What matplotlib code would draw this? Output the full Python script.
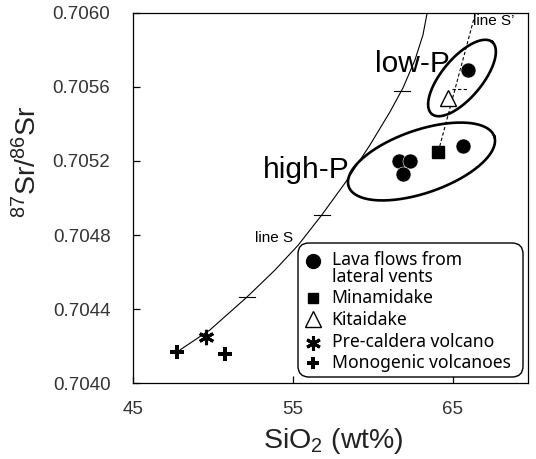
import numpy as np
import matplotlib
matplotlib.use("Agg")
import matplotlib.pyplot as plt
from matplotlib.patches import FancyBboxPatch
from matplotlib.transforms import IdentityTransform

plt.rcParams['font.family'] = ['Liberation Sans', 'DejaVu Sans']
plt.rcParams['mathtext.fontset'] = 'custom'
plt.rcParams['mathtext.rm'] = 'Liberation Sans'
plt.rcParams['mathtext.it'] = 'Liberation Sans:italic'

# ---------------- data ----------------
lava_x = [65.94, 65.63, 61.63, 62.30, 61.88]
lava_y = [0.70569, 0.70528, 0.70520, 0.70520, 0.70513]
mina_x = [64.10]
mina_y = [0.70525]
kita_x = [64.69]
kita_y = [0.70554]
pre_x = [49.54]
pre_y = [0.70425]
mono_x = [47.73, 50.73]
mono_y = [0.70417, 0.70416]

lineS_x = [47.92, 49.80, 52.10, 53.87, 55.33, 56.80, 58.26, 59.82, 61.07, 61.89, 62.64, 63.14, 63.39]
lineS_y = [0.70418, 0.704288, 0.704464, 0.704611, 0.704746, 0.704908, 0.705081,
           0.705286, 0.705464, 0.705594, 0.705745, 0.705880, 0.705993]
lineS_tick_x = [52.10, 56.80, 61.85]
lineS_tick_y = [0.704464, 0.704908, 0.70558]

lineS2_x = [64.10, 66.40]
lineS2_y = [0.70525, 0.70599]
lineS2_tick_x = [65.42]
lineS2_tick_y = [0.70559]

xticks = [45, 55, 65]
yticks = [0.7040, 0.7044, 0.7048, 0.7052, 0.7056, 0.7060]

legend_labels = ["Lava flows from\nlateral vents", "Minamidake", "Kitaidake",
                 "Pre-caldera volcano", "Monogenic volcanoes"]

# ---------------- figure ----------------
W, H = 536, 459
fig = plt.figure(figsize=(W / 100, H / 100), dpi=100)
AX_L, AX_R, AX_T, AX_B = 133.3, 527.7, 12.7, 383.3
ax = fig.add_axes([AX_L / W, 1 - AX_B / H, (AX_R - AX_L) / W, (AX_B - AX_T) / H])
ax.set_xlim(45, 69.7)
ax.set_ylim(0.7040, 0.7060)


def pxa(x, y):
    """pixel (from top-left) -> axes fraction"""
    return ((x - AX_L) / (AX_R - AX_L), (AX_B - y) / (AX_B - AX_T))


# line S
ax.plot(lineS_x, lineS_y, color='black', lw=0.8, solid_capstyle='butt')
for tx, ty in zip(lineS_tick_x, lineS_tick_y):
    ax.plot([tx - 0.5, tx + 0.5], [ty, ty], color='black', lw=0.8)

# line S'
ax.plot(lineS2_x, lineS2_y, color='black', lw=0.8, ls=(0, (3, 2)))
for tx, ty in zip(lineS2_tick_x, lineS2_tick_y):
    ax.plot([tx - 0.45, tx + 0.45], [ty, ty], color='black', lw=0.8, ls=(0, (3, 2)))


# ellipses (drawn in screen space for correct shape)
def ellipse(cx, cy, a, b, ang):
    t = np.linspace(0, 2 * np.pi, 300)
    th = np.deg2rad(ang)
    X = cx + a * np.cos(t) * np.cos(th) - b * np.sin(t) * np.sin(th)
    Y = (H - cy) + a * np.cos(t) * np.sin(th) + b * np.sin(t) * np.cos(th)
    d = ax.transData.inverted().transform(np.column_stack([X, Y]))
    ax.plot(d[:, 0], d[:, 1], color='black', lw=1.9)


ellipse(462, 78, 47, 20, 50)
ellipse(421.5, 161.5, 77, 31.5, 19)

# data markers
ax.plot(lava_x, lava_y, 'o', ms=10.8, color='black', mec='white', mew=0.4, zorder=5)
ax.plot(mina_x, mina_y, 's', ms=8.6, color='black', zorder=5)
ax.plot(kita_x, kita_y, '^', ms=11.5, mfc='white', mec='black', mew=1.0, zorder=5)
ax.plot(pre_x, pre_y, marker=(6, 2, 0), ms=11, color='black', mew=2.2, ls='none', zorder=5)
ax.plot(mono_x, mono_y, 'P', ms=9.5, color='black', mew=0, zorder=5)

# annotations
ax.text(*pxa(375, 72), "low-P", transform=ax.transAxes, fontsize=21.5, va='baseline', ha='left')
ax.text(*pxa(262.7, 178), "high-P", transform=ax.transAxes, fontsize=21.5, va='baseline', ha='left')
ax.text(*pxa(255, 242), "line S", transform=ax.transAxes, fontsize=11, va='baseline', ha='left')
ax.text(*pxa(473, 25), "line S\u2019", transform=ax.transAxes, fontsize=11, va='baseline', ha='left')

# legend (manual)
box = FancyBboxPatch((298, H - 377), 225, 134, boxstyle="round,pad=0,rounding_size=11",
                     transform=IdentityTransform(), facecolor='white', edgecolor='black',
                     lw=1.0, zorder=6)
ax.add_patch(box)
mk_x = 312.7
txt_x = 331.7
marker_specs = [
    dict(marker='o', ms=10, color='black'),
    dict(marker='s', ms=7.2, color='black'),
    dict(marker='^', ms=11, mfc='white', mec='black', mew=1.0),
    dict(marker=(6, 2, 0), ms=10.5, color='black', mew=2.2),
    dict(marker='P', ms=9, color='black', mew=0),
]
marker_y = [260.7, 298, 319, 343, 363]
text_base = [265, 302.7, 325, 346.7, 368.3]
for spec, my, tb, lab in zip(marker_specs, marker_y, text_base, legend_labels):
    fx, fy = pxa(mk_x, my)
    ax.plot([fx], [fy], transform=ax.transAxes, ls='none', zorder=7, clip_on=False, **spec)
    for i, line in enumerate(lab.split("\n")):
        ax.text(*pxa(txt_x, tb + i * 16.7), line, transform=ax.transAxes, fontsize=12.6,
                family=['Noto Sans', 'DejaVu Sans'], va='baseline', ha='left', zorder=7)

# axes styling
ax.set_xticks(xticks)
ax.set_xticklabels([str(v) for v in xticks])
ax.set_yticks(yticks)
ax.set_yticklabels([f"{v:.4f}" for v in yticks])
ax.tick_params(direction='in', length=5, width=0.9, labelsize=13.5, top=False, right=False,
               colors='black', labelcolor='#333333')
ax.tick_params(axis='y', pad=16.5)
ax.tick_params(axis='x', pad=13)
for s in ax.spines.values():
    s.set_linewidth(0.9)

fig.text(333 / W, 1 - 448 / H, r"SiO$_{\mathrm{2}}$ (wt%)", fontsize=20.5, ha='center', va='baseline',
         color='#222222')
fig.text(28 / W, 1 - 161.5 / H, r"$^{\mathrm{87}}$Sr/$^{\mathrm{86}}$Sr", fontsize=20.5, rotation=90,
         ha='center', va='center', color='#222222')

fig.savefig("out.png", dpi=100)
